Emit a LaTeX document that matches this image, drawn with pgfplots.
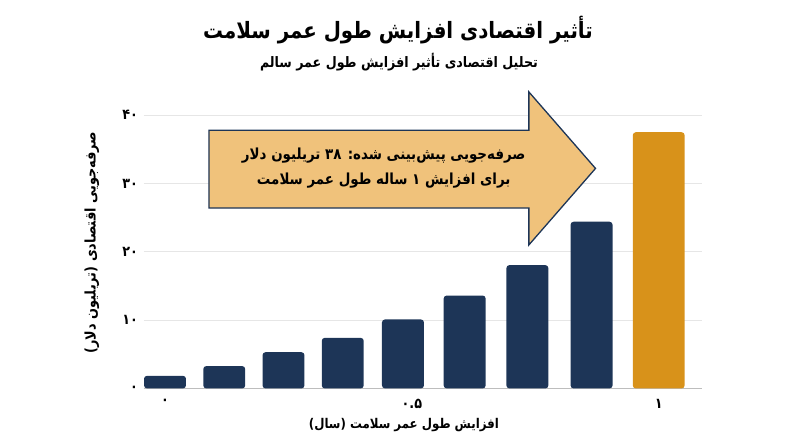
\documentclass[border=0pt]{standalone}
\usepackage{fontspec}
\setmainfont[Script=Arabic, FakeStretch=0.88]{DejaVu Sans}
\usepackage{pgfplots}
\pgfplotsset{compat=1.18}
\TeXXeTstate=1

\definecolor{navy}{HTML}{1D3557}
\definecolor{gold}{HTML}{D8921A}
\definecolor{arrowfill}{HTML}{F0C27B}
\definecolor{gridc}{HTML}{E6E6E6}
\definecolor{axc}{HTML}{BDBDBD}

\begin{document}
\begin{tikzpicture}
\begin{axis}[
    scale only axis,
    width=558.5pt, height=290.3pt,
    xmin=-0.0435, xmax=1.088,
    ymin=0, ymax=42.5,
    clip=false,
    axis x line*=bottom,
    axis y line*=left,
    y axis line style={draw=none},
    x axis line style={draw=axc, line width=0.8pt},
    major tick length=0pt,
    ymajorgrids=true,
    grid style={draw=gridc, line width=0.8pt},
    ytick={0,10,20,30,40},
    yticklabels={۰,۱۰,۲۰,۳۰,۴۰},
    xtick={0,0.5,1},
    xticklabels={۰,۰.۵,۱},
    ticklabel style={font=\bfseries\fontsize{14.5}{16}\selectfont, text=black},
    yticklabel style={xshift=-2pt},
    xticklabel style={yshift=-7pt},
]
% invisible frame that fixes the page to the reference proportions
\path (axis cs:-0.33421,56.852) rectangle (axis cs:1.2862,-8.594);

\addplot[ybar, bar width=0.085, bar shift=0pt, fill=navy, draw=none, rounded corners=3pt]
    coordinates {(0,1.85)(0.120,3.27)(0.240,5.3)(0.360,7.4)(0.482,10.1)(0.607,13.6)(0.734,18.05)(0.864,24.4)};
\addplot[ybar, bar width=0.105, bar shift=0pt, fill=gold, draw=none, rounded corners=3pt]
    coordinates {(1,37.5)};

% annotation arrow
\addplot[fill=arrowfill, draw=navy, line width=1.3pt, line join=miter, mark=none]
    coordinates {(0.089,37.8)(0.737,37.8)(0.737,43.4)(0.872,32.2)(0.737,21.0)(0.737,26.4)(0.089,26.4)} -- cycle;
\node[align=center, font=\bfseries\fontsize{15.25}{25}\selectfont] at (axis cs:0.443,32.3)
    {\beginR صرفه‌جویی پیش‌بینی شده: ۳۸ تریلیون دلار\endR\\\beginR برای افزایش ۱ ساله طول عمر سلامت\endR};

% titles and axis labels
\node[font=\bfseries\fontsize{22.5}{26}\selectfont] at (axis cs:0.472,52.46)
    {\beginR تأثیر اقتصادی افزایش طول عمر سلامت\endR};
\node[font=\bfseries\fontsize{14.4}{18}\selectfont] at (axis cs:0.474,47.77)
    {\beginR تحلیل اقتصادی تأثیر افزایش طول عمر سالم\endR};
\node[rotate=90, font=\bfseries\fontsize{14.6}{16}\selectfont] at (axis cs:-0.148,21.35)
    {\beginR صرفه‌جویی اقتصادی (تریلیون دلار)\endR};
\node[font=\bfseries\fontsize{13.4}{16}\selectfont] at (axis cs:0.484,-5.37)
    {\beginR افزایش طول عمر سلامت (سال)\endR};
\end{axis}
\end{tikzpicture}
\end{document}
